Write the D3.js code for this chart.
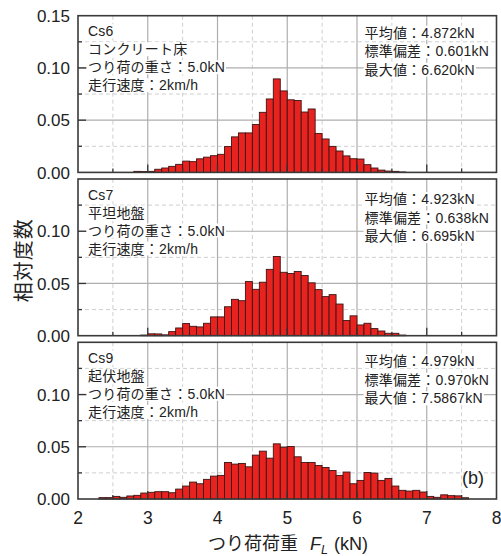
<!DOCTYPE html>
<html>
<head>
<meta charset="utf-8">
<script src="https://cdn.jsdelivr.net/npm/d3@7"></script>
<style>
  html, body { margin: 0; padding: 0; background: #fff; }
  svg { display: block; }
  text { font-family: "Liberation Sans", "Noto Sans CJK JP", sans-serif; fill: #222; }
</style>
</head>
<body>
<svg id="chart" width="501" height="556"></svg>
<script>
// Bin left edges (kN), bin width 0.1 kN
const binEdges = [
  2.0, 2.1, 2.2, 2.3, 2.4, 2.5, 2.6, 2.7, 2.8, 2.9,
  3.0, 3.1, 3.2, 3.3, 3.4, 3.5, 3.6, 3.7, 3.8, 3.9,
  4.0, 4.1, 4.2, 4.3, 4.4, 4.5, 4.6, 4.7, 4.8, 4.9,
  5.0, 5.1, 5.2, 5.3, 5.4, 5.5, 5.6, 5.7, 5.8, 5.9,
  6.0, 6.1, 6.2, 6.3, 6.4, 6.5, 6.6, 6.7, 6.8, 6.9,
  7.0, 7.1, 7.2, 7.3, 7.4, 7.5, 7.6, 7.7, 7.8, 7.9
];
const binWidth = 0.1;

// Relative frequency per bin
const cs6Freq = [
  0, 0, 0, 0, 0, 0, 0, 0, 0.0010, 0.0008,
  0.0010, 0.0030, 0.0042, 0.0058, 0.0077, 0.0108, 0.0103, 0.0130, 0.0146, 0.0160,
  0.0173, 0.0247, 0.0340, 0.0378, 0.0378, 0.0458, 0.0575, 0.0703, 0.0895, 0.0780,
  0.0695, 0.0688, 0.0578, 0.0607, 0.0373, 0.0320, 0.0249, 0.0205, 0.0158, 0.0131,
  0.0128, 0.0074, 0.0042, 0.0022, 0.0013, 0.0010, 0.0004, 0, 0, 0,
  0, 0, 0, 0, 0, 0, 0, 0, 0, 0
];
const cs7Freq = [
  0, 0, 0, 0, 0, 0, 0, 0, 0, 0.0006,
  0.0018, 0.0017, 0.0008, 0.0039, 0.0074, 0.0116, 0.0090, 0.0084, 0.0119, 0.0180,
  0.0180, 0.0277, 0.0348, 0.0335, 0.0518, 0.0444, 0.0512, 0.0635, 0.0758, 0.0607,
  0.0596, 0.0615, 0.0576, 0.0506, 0.0441, 0.0374, 0.0393, 0.0303, 0.0145, 0.0190,
  0.0103, 0.0119, 0.0068, 0.0045, 0.0023, 0.0023, 0.0006, 0, 0, 0,
  0, 0, 0, 0, 0, 0, 0, 0, 0, 0
];
const cs9Freq = [
  0, 0, 0, 0.0013, 0.0013, 0.0025, 0.0016, 0.0029, 0.0035, 0.0057,
  0.0064, 0.0070, 0.0070, 0.0060, 0.0095, 0.0124, 0.0162, 0.0146, 0.0188, 0.0219,
  0.0226, 0.0350, 0.0334, 0.0340, 0.0308, 0.0420, 0.0458, 0.0391, 0.0528, 0.0496,
  0.0502, 0.0404, 0.0350, 0.0350, 0.0321, 0.0302, 0.0273, 0.0226, 0.0258, 0.0146,
  0.0178, 0.0254, 0.0248, 0.0178, 0.0197, 0.0124, 0.0083, 0.0076, 0.0083, 0.0067,
  0.0025, 0.0016, 0.0040, 0.0032, 0.0030, 0.0012, 0, 0, 0, 0
];

// Panel annotations
const caseNames = ["Cs6", "Cs7", "Cs9"];
const surfaces = ["コンクリート床", "平坦地盤", "起伏地盤"];
const loadText = "つり荷の重さ：5.0kN";
const speedText = "走行速度：2km/h";
const meanText = ["平均値：4.872kN", "平均値：4.923kN", "平均値：4.979kN"];
const sdText = ["標準偏差：0.601kN", "標準偏差：0.638kN", "標準偏差：0.970kN"];
const maxText = ["最大値：6.620kN", "最大値：6.695kN", "最大値：7.5867kN"];

// Axis ticks
const xTicks = [2, 3, 4, 5, 6, 7, 8];
const xMinor = [2.5, 3.5, 4.5, 5.5, 6.5, 7.5];
const yTicks = [0.00, 0.05, 0.10, 0.15];
const yMinor = [0.025, 0.075, 0.125];

const series = [cs6Freq, cs7Freq, cs9Freq];

// Layout
const svg = d3.select("#chart");
const left = 78, right = 496.5;
const panelTops = [15.7, 179.0, 342.3];
const panelH = 156.7;
const statOffset = [22, 25, 24];

const x = d3.scaleLinear().domain([2, 8]).range([left, right]);

series.forEach((vals, p) => {
  const top = panelTops[p], bottom = top + panelH;
  const y = d3.scaleLinear().domain([0, 0.15]).range([bottom, top]);
  const g = svg.append("g");

  // minor grid (dashed)
  g.selectAll(".vminor").data(xMinor).join("line")
    .attr("x1", d => x(d)).attr("x2", d => x(d)).attr("y1", top).attr("y2", bottom)
    .attr("stroke", "#cfcfcf").attr("stroke-width", 1).attr("stroke-dasharray", "4,3");
  g.selectAll(".hminor").data(yMinor).join("line")
    .attr("y1", d => y(d)).attr("y2", d => y(d)).attr("x1", left).attr("x2", right)
    .attr("stroke", "#cfcfcf").attr("stroke-width", 1).attr("stroke-dasharray", "4,3");
  // major grid (solid)
  g.selectAll(".vmajor").data(xTicks.slice(1, -1)).join("line")
    .attr("x1", d => x(d)).attr("x2", d => x(d)).attr("y1", top).attr("y2", bottom)
    .attr("stroke", "#aeaeae").attr("stroke-width", 1.2);
  g.selectAll(".hmajor").data(yTicks.slice(1, -1)).join("line")
    .attr("y1", d => y(d)).attr("y2", d => y(d)).attr("x1", left).attr("x2", right)
    .attr("stroke", "#aeaeae").attr("stroke-width", 1.2);

  // annotation text with white backing per line
  const lines = [
    { t: caseNames[p], x: 88, y: top + 20.5 },
    { t: surfaces[p], x: 88, y: top + 38.5 },
    { t: loadText, x: 88, y: top + 56.5 },
    { t: speedText, x: 88, y: top + 74.5 },
    { t: meanText[p], x: 364.5, y: top + statOffset[p] },
    { t: sdText[p], x: 364.5, y: top + statOffset[p] + 18.5 },
    { t: maxText[p], x: 364.5, y: top + statOffset[p] + 37 }
  ];
  lines.forEach(l => {
    const bg = g.append("rect").attr("fill", "#fff");
    const t = g.append("text").attr("x", l.x).attr("y", l.y)
      .attr("font-size", 14).attr("letter-spacing", 0.2).text(l.t);
    const b = t.node().getBBox();
    bg.attr("x", b.x - 1).attr("y", b.y + 1).attr("width", b.width + 2).attr("height", b.height - 2);
  });

  // histogram bars
  const bins = binEdges.map((e, i) => ({ e, v: vals[i] })).filter(d => d.v > 0);
  g.selectAll(".bar").data(bins).join("rect")
    .attr("x", d => x(d.e)).attr("width", d => x(d.e + binWidth) - x(d.e))
    .attr("y", d => y(d.v)).attr("height", d => y(0) - y(d.v))
    .attr("fill", "#e8231f").attr("stroke", "#3b1414").attr("stroke-width", 0.9);

  // inward ticks
  g.selectAll(".xt").data(xTicks.slice(1, -1)).join("line")
    .attr("x1", d => x(d)).attr("x2", d => x(d)).attr("y1", bottom).attr("y2", bottom - 8)
    .attr("stroke", "#333").attr("stroke-width", 1.3);
  g.selectAll(".xmt").data(xMinor).join("line")
    .attr("x1", d => x(d)).attr("x2", d => x(d)).attr("y1", bottom).attr("y2", bottom - 4)
    .attr("stroke", "#333").attr("stroke-width", 1.3);
  g.selectAll(".yt").data(yTicks.slice(1, -1)).join("line")
    .attr("y1", d => y(d)).attr("y2", d => y(d)).attr("x1", left).attr("x2", left + 8)
    .attr("stroke", "#333").attr("stroke-width", 1.3);
  g.selectAll(".ymt").data(yMinor).join("line")
    .attr("y1", d => y(d)).attr("y2", d => y(d)).attr("x1", left).attr("x2", left + 4)
    .attr("stroke", "#333").attr("stroke-width", 1.3);

  // frame
  g.append("rect").attr("x", left).attr("y", top).attr("width", right - left).attr("height", panelH)
    .attr("fill", "none").attr("stroke", "#3a3a3a").attr("stroke-width", 1.6);

  // y tick labels (the top value only on the first panel)
  const yLabelTicks = p === 0 ? yTicks : yTicks.slice(0, -1);
  g.selectAll(".yl").data(yLabelTicks).join("text")
    .attr("x", 70).attr("y", d => y(d)).attr("dy", "0.36em")
    .attr("text-anchor", "end").attr("font-size", 17)
    .text(d => d3.format(".2f")(d));

  if (p === 2) {
    g.selectAll(".xl").data(xTicks).join("text")
      .attr("x", d => x(d)).attr("y", bottom + 25)
      .attr("text-anchor", "middle").attr("font-size", 17.5)
      .text(d => d);
    g.append("text").attr("x", 473).attr("y", bottom - 15)
      .attr("text-anchor", "middle").attr("font-size", 18).text("(b)");
  }
});

// axis titles
svg.append("text")
  .attr("transform", `translate(31, ${(panelTops[0] + panelTops[2] + panelH) / 2 + 3}) rotate(-90)`)
  .attr("text-anchor", "middle").attr("font-size", 20).attr("letter-spacing", 1)
  .text("相対度数");

const xt = svg.append("text").attr("x", 208).attr("y", 550)
  .attr("text-anchor", "start").attr("font-size", 18);
xt.append("tspan").text("つり荷荷重");
xt.append("tspan").attr("dx", 12).attr("font-style", "italic").text("F");
xt.append("tspan").attr("font-style", "italic").attr("font-size", 12.5).attr("dy", 4).text("L");
xt.append("tspan").attr("dx", 6).attr("dy", -4).text("(kN)");
</script>
</body>
</html>
